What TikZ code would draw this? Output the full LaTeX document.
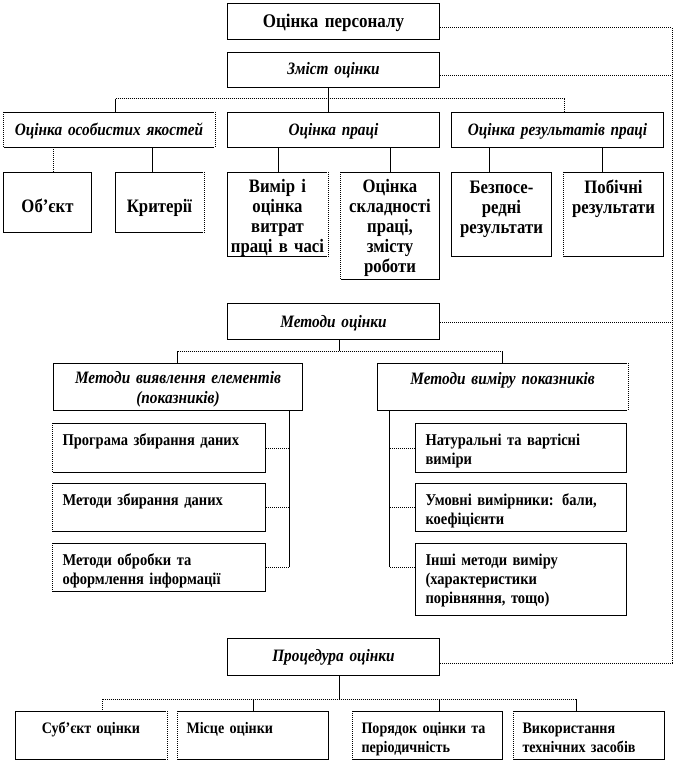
\documentclass[tikz,border=0pt]{standalone}
\usepackage{fontspec}
\setmainfont{Liberation Serif}[FakeStretch=0.88]
\newcommand\mkdotedge[2]{%
  \draw[white,line width=1.4pt] (#1.north #2) -- (#1.south #2);
  \draw[dl] (#1.north #2) -- (#1.south #2);}
\begin{document}
\begin{tikzpicture}[x=1pt,y=-1pt,
  sl/.style={line width=1pt,black},
  dl/.style={line width=1pt,black,dash pattern=on 1pt off 1pt},
  box/.style={draw,line width=1pt,anchor=north west,inner ysep=0pt,inner xsep=2pt,align=center},
  lbox/.style={box,inner xsep=10pt,align=left},
  main/.style={font=\bfseries\fontsize{19.3}{22}\selectfont},
  ttl/.style={font=\bfseries\itshape\fontsize{17.4}{20}\selectfont},
  btxt/.style={font=\bfseries\fontsize{19}{20}\selectfont},
  ltxt/.style={font=\bfseries\fontsize{16.5}{19}\selectfont},
  dtxt/.style={font=\bfseries\fontsize{16}{18.5}\selectfont}]
\useasboundingbox (0,0) rectangle (677,762);

% top level
\node[box,main,text width=208pt,text height=24pt,text depth=12pt] (P) at (227,3) {Оцінка персоналу};
\node[box,ttl,text width=208pt,text height=22pt,text depth=13pt] (Z) at (227,52) {Зміст оцінки};
\node[box,ttl,text width=207pt,text height=23pt,text depth=12pt] (A1) at (3,112) {Оцінка особистих якостей};
\node[box,ttl,text width=208pt,text height=23pt,text depth=12pt] (A2) at (227,112) {Оцінка праці};
\node[box,ttl,text width=208pt,text height=23pt,text depth=12pt] (A3) at (451,112) {Оцінка результатів праці};

\node[box,btxt,text width=84pt,text height=40pt,text depth=20pt] (B1) at (3,172) {Об’єкт};
\node[box,btxt,text width=84pt,text height=40pt,text depth=20pt] (B2) at (115,172) {Критерії};
\node[box,btxt,text width=96pt,text height=20pt,text depth=64pt] (B3) at (227,172) {Вимір і\\оцінка\\витрат\\праці в часі};
\node[box,btxt,text width=95pt,text height=20pt,text depth=87pt] (B4) at (340,172) {Оцінка\\складності\\праці,\\змісту\\роботи};
\node[box,btxt,text width=96pt,text height=21pt,text depth=63pt] (B5) at (451,172) {Безпосе-\\редні\\результати};
\node[box,btxt,text width=96pt,text height=21pt,text depth=63pt] (B6) at (563,172) {Побічні\\результати};

% methods
\node[box,ttl,text width=208pt,text height=24pt,text depth=12pt] (M) at (227,303) {Методи оцінки};
\node[box,ttl,text width=245pt,text height=20pt,text depth=27pt] (C1) at (53,363) {Методи виявлення елементів\\(показників)};
\node[box,ttl,text width=246pt,text height=21pt,text depth=26pt] (C2) at (377,363) {Методи виміру показників};

\node[lbox,ltxt,text width=193pt,text height=22pt,text depth=27pt] (L1) at (52,423) {Програма збирання даних};
\node[lbox,ltxt,text width=193pt,text height=22pt,text depth=26pt] (L2) at (52,483) {Методи збирання даних};
\node[lbox,ltxt,text width=193pt,text height=22pt,text depth=26pt] (L3) at (52,543) {Методи обробки та\\оформлення інформації};
\node[lbox,ltxt,text width=191pt,text height=22pt,text depth=27pt] (R1) at (415,423) {Натуральні та вартісні\\виміри};
\node[lbox,ltxt,text width=191pt,text height=22pt,text depth=26pt] (R2) at (415,483) {Умовні вимірники: бали,\\коефіцієнти};
\node[lbox,ltxt,text width=191pt,text height=22pt,text depth=50pt] (R3) at (415,543) {Інші методи виміру\\(характеристики\\порівняння, тощо)};

% procedure
\node[box,ttl,text width=208pt,text height=22.5pt,text depth=14.5pt] (Q) at (227,638) {Процедура оцінки};
\node[box,dtxt,text width=147pt,text height=22pt,text depth=26pt] (D1) at (15,711) {Суб’єкт оцінки};
\node[lbox,dtxt,inner xsep=9pt,text width=133pt,text height=22pt,text depth=26pt] (D2) at (177,711) {Місце оцінки};
\node[lbox,dtxt,inner xsep=9pt,text width=132pt,text height=22pt,text depth=26pt] (D3) at (352,711) {Порядок оцінки та\\періодичність};
\node[lbox,dtxt,inner xsep=9pt,text width=133pt,text height=22pt,text depth=26pt] (D4) at (513,711) {Використання\\технічних засобів};

% dotted box sides
\mkdotedge{A1}{west}
\mkdotedge{A1}{east}
\mkdotedge{B2}{east}
\mkdotedge{B3}{east}
\mkdotedge{B4}{west}
\mkdotedge{B6}{west}
\mkdotedge{C2}{east}
\mkdotedge{L1}{west}
\mkdotedge{L2}{west}
\mkdotedge{L3}{west}
\mkdotedge{D1}{east}
\mkdotedge{D2}{west}
\mkdotedge{D3}{west}
\mkdotedge{D4}{west}

% right-hand dotted spine
\coordinate (pR) at (672,28);
\coordinate (zR) at (672,76);
\coordinate (mR) at (672,322);
\coordinate (qR) at (672,663);
\draw[dl] (P.east |- pR) -- (pR) -- (qR) -- (Q.east |- qR);
\draw[dl] (Z.east |- zR) -- (zR);
\draw[dl] (M.east |- mR) -- (mR);

% content tree
\coordinate (j1) at (328,99);
\coordinate (h1) at (115.7,99);
\coordinate (h3) at (564,99);
\draw[sl] (Z.south -| j1) -- (A2.north -| j1);
\draw[dl] (h1) -- (h3);
\draw[sl] (h1) -- (A1.north -| h1);
\draw[dl] (h3) -- (A3.north -| h3);
\draw[dl] ([xshift=6pt]B1.north) -- ([xshift=6pt]B1.north |- A1.south);
\draw[sl] ([xshift=-7pt]B2.north) -- ([xshift=-7pt]B2.north |- A1.south);
\draw[sl] ([xshift=1pt]B3.north) -- ([xshift=1pt]B3.north |- A2.south);
\draw[sl] ([xshift=0.5pt]B4.north) -- ([xshift=0.5pt]B4.north |- A2.south);
\draw[sl] ([xshift=-12pt]B5.north) -- ([xshift=-12pt]B5.north |- A3.south);
\draw[sl] ([xshift=-11.5pt]B6.north) -- ([xshift=-11.5pt]B6.north |- A3.south);

% methods tree
\coordinate (j3) at (339,351);
\coordinate (c1) at (177.5,351);
\coordinate (c2) at (502,351);
\draw[sl] (M.south -| j3) -- (j3);
\draw[dl] (c1) -- (c2);
\draw[sl] (c1) -- (C1.north -| c1);
\draw[sl] (c2) -- (C2.north -| c2);
\coordinate (v1) at (289,567);
\coordinate (v2) at (389,567);
\draw[sl] (C1.south -| v1) -- (v1);
\draw[sl] (C2.south -| v2) -- (v2);
\draw[dl] (L1.east) -- (L1.east -| v1);
\draw[dl] (L2.east) -- (L2.east -| v1);
\draw[dl] (L3.east) -- (L3.east -| v1);
\draw[dl] (R1.west) -- (R1.west -| v2);
\draw[dl] (R2.west) -- (R2.west -| v2);
\draw[dl] (R3.west |- v2) -- (v2);

% procedure tree
\coordinate (j4) at (339,699);
\coordinate (k1) at (102.7,699);
\coordinate (k4) at (576.4,699);
\draw[sl] (Q.south -| j4) -- (j4);
\draw[dl] (k1) -- (k4);
\draw[dl] (k1) -- (D1.north -| k1);
\draw[sl] (D2.north) -- (D2.north |- k1);
\draw[sl] ([xshift=12pt]D3.north) -- ([xshift=12pt]D3.north |- k1);
\draw[sl] (k4) -- (D4.north -| k4);
\end{tikzpicture}
\end{document}
